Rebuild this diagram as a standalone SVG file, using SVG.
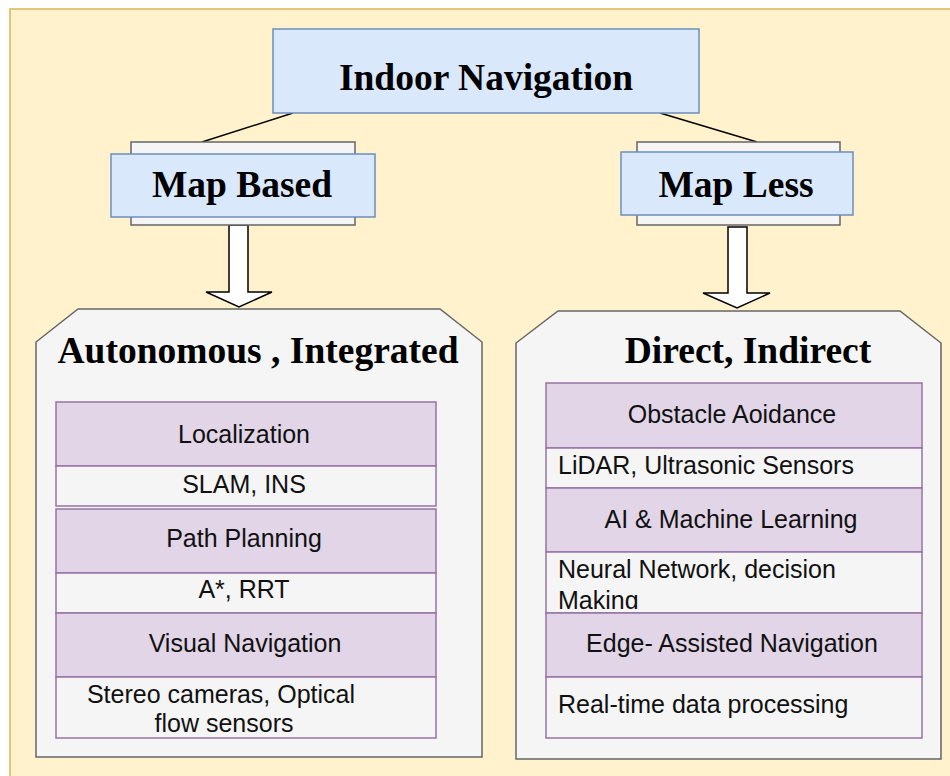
<svg xmlns="http://www.w3.org/2000/svg" width="950" height="776" viewBox="0 0 950 776">
<style>
.bg{fill:#fff2cc;stroke:#d6b656;stroke-width:1.5}
.blue{fill:#dae8fc;stroke:#6c8ebf;stroke-width:1.5}
.gray{fill:#f5f5f5;stroke:#666666;stroke-width:1.5}
.pur{fill:#e1d5e7;stroke:#9673a6;stroke-width:1.5}
.wht{fill:#f5f5f5;stroke:#9673a6;stroke-width:1.5}
.big{font-family:"Liberation Serif","Times New Roman",serif;font-weight:bold;font-size:37.5px;fill:#000;text-anchor:middle}
.t{font-family:"Liberation Sans",Arial,sans-serif;font-size:25px;fill:#111}
.c{text-anchor:middle}
.ln{stroke:#000;stroke-width:1.5;fill:none}
.arr{fill:#ffffff;stroke:#000;stroke-width:1.5}
</style>
<defs>
<clipPath id="clipNN"><rect x="546" y="552" width="376" height="57"/></clipPath>
</defs>
<rect class="bg" x="10" y="9" width="950" height="780"/>

<g id="connectors">
<line class="ln" x1="293" y1="113" x2="202" y2="142"/>
<line class="ln" x1="660" y1="113" x2="757" y2="142"/>
<path class="arr" d="M229,225 L248,225 L248,292 L272,292 L239,307 L206,292 L229,292 Z"/>
<path class="arr" d="M728,227 L747,227 L747,293 L770,293 L737,308 L703,293 L728,293 Z"/>
</g>

<g id="indoor-navigation">
<rect class="blue" x="273" y="29" width="426" height="84"/>
<text class="big" x="486" y="90">Indoor Navigation</text>
</g>

<g id="map-based">
<rect class="gray" x="131" y="142" width="224" height="83"/>
<rect class="blue" x="111" y="154" width="264" height="63"/>
<text class="big" x="242" y="197">Map Based</text>
</g>

<g id="map-less">
<rect class="gray" x="637" y="142" width="203" height="83"/>
<rect class="blue" x="621" y="152" width="232" height="63"/>
<text class="big" x="736" y="197">Map Less</text>
</g>

<g id="autonomous-integrated">
<path class="gray" d="M78,309 L440,309 L482,342 L482,757 L36,757 L36,342 Z"/>
<text class="big" x="258" y="363">Autonomous , Integrated</text>
<rect class="pur" x="56" y="402" width="380" height="64"/>
<text class="t c" x="244" y="443">Localization</text>
<rect class="wht" x="56" y="466" width="380" height="40"/>
<text class="t c" x="244" y="493">SLAM, INS</text>
<rect class="pur" x="56" y="509" width="380" height="64"/>
<text class="t c" x="244" y="547">Path Planning</text>
<rect class="wht" x="56" y="573" width="380" height="40"/>
<text class="t c" x="244" y="598">A*, RRT</text>
<rect class="pur" x="56" y="613" width="380" height="64"/>
<text class="t c" x="245" y="652">Visual Navigation</text>
<rect class="wht" x="56" y="677" width="380" height="61"/>
<text class="t c" x="221" y="703">Stereo cameras, Optical</text>
<text class="t c" x="224" y="732">flow sensors</text>
</g>

<g id="direct-indirect">
<path class="gray" d="M558,311 L900,311 L941,343 L941,759 L516,759 L516,343 Z"/>
<text class="big" x="748" y="363">Direct, Indirect</text>
<rect class="pur" x="546" y="383" width="376" height="65"/>
<text class="t c" x="732" y="423">Obstacle Aoidance</text>
<rect class="wht" x="546" y="448" width="376" height="40"/>
<text class="t" x="558" y="474">LiDAR, Ultrasonic Sensors</text>
<rect class="pur" x="546" y="488" width="376" height="64"/>
<text class="t c" x="731" y="528">AI &amp; Machine Learning</text>
<rect class="wht" x="546" y="552" width="376" height="61"/>
<g clip-path="url(#clipNN)">
<text class="t" x="558" y="578">Neural Network, decision</text>
<text class="t" x="558" y="609">Making</text>
</g>
<rect class="pur" x="546" y="613" width="376" height="64"/>
<text class="t c" x="732" y="652">Edge- Assisted Navigation</text>
<rect class="wht" x="546" y="677" width="376" height="61"/>
<text class="t" x="558" y="713">Real-time data processing</text>
</g>
</svg>
